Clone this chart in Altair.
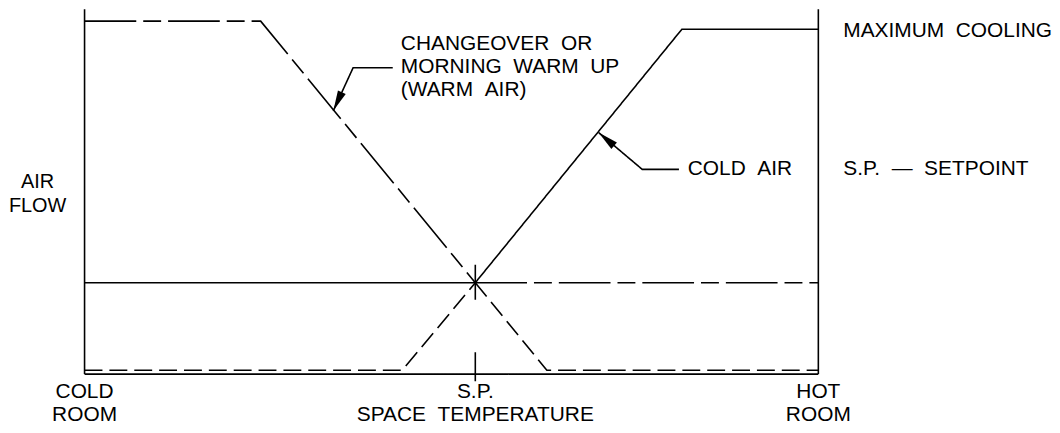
import math
import altair as alt
import pandas as pd

# ---------------- data (abstract units) ----------------
# x: 0 = cold room, 100 = hot room ; y: 0 = no air flow, 100 = max warm air
SP_X = 53.25          # setpoint position
MIN_Y = 25.9          # air flow at setpoint
LOW_Y = 1.1           # residual flow near bottom

warm_top_x = [0, 24.0, SP_X]
warm_top_y = [100, 100, MIN_Y]
warm_low_x = [SP_X, 63.0, 100]
warm_low_y = [MIN_Y, LOW_Y, LOW_Y]
cold_low_x = [0, 43.3, SP_X]
cold_low_y = [LOW_Y, LOW_Y, MIN_Y]
cold_up_x = [SP_X, 81.4, 100]
cold_up_y = [MIN_Y, 97.7, 97.7]
min_left_x = [0, SP_X]
min_left_y = [MIN_Y, MIN_Y]
min_right_x = [SP_X, 100]
min_right_y = [MIN_Y, MIN_Y]

frame_left_x = [0, 0]
frame_left_y = [103.4, 0]
frame_bottom_x = [0, 100]
frame_bottom_y = [0, 0]
frame_right_x = [100, 100]
frame_right_y = [0, 103.4]
tick_mid_x = [SP_X, SP_X]
tick_mid_y = [31.0, 21.1]
tick_bot_x = [SP_X, SP_X]
tick_bot_y = [6.2, -2.0]

lead_warm_x = [42.0, 36.6, 33.9]
lead_warm_y = [86.8, 86.8, 74.6]
lead_cold_x = [81.0, 76.0, 70.05]
lead_cold_y = [58.0, 58.0, 68.45]

NB = "\u00a0"
label_text = [
    f"CHANGEOVER{NB*2}OR",
    f"MORNING{NB*2}WARM{NB*2}UP",
    f"(WARM{NB*2}AIR)",
    f"COLD{NB*2}AIR",
    f"MAXIMUM{NB*2}COOLING",
    f"S.P.{NB*2}—{NB*2}SETPOINT",
    "AIR", "FLOW",
    "COLD", "ROOM",
    "S.P.", f"SPACE{NB*2}TEMPERATURE",
    "HOT", "ROOM",
]
label_x = [43.1, 43.1, 43.1, 82.2, 103.4, 103.4, -6.4, -6.4,
           0, 0, SP_X, SP_X, 100, 100]
label_y = [93.5, 87.0, 80.6, 58.0, 97.2, 58.0, 54.4, 47.6,
           -5.2, -11.6, -5.2, -11.6, -5.2, -11.6]
label_align = ["left"] * 6 + ["center"] * 8
label_size = [21, 21, 21, 21, 21, 21, 20, 20, 21, 21, 21, 21, 21, 21]

# ---------------- layout constants ----------------
W, H = 1050, 423
PX_X, PX_Y = 7.38, 3.55            # pixels per data unit
X0_PX, Y0_PX = 77, 367             # pixel position of data origin
x_dom = [-X0_PX / PX_X, (W - X0_PX) / PX_X]
y_dom = [-(H - Y0_PX) / PX_Y, Y0_PX / PX_Y]

segments = [
    ("warm_top", "longshort", warm_top_x, warm_top_y),
    ("warm_low", "short", warm_low_x, warm_low_y),
    ("cold_low", "short", cold_low_x, cold_low_y),
    ("cold_up", "solid", cold_up_x, cold_up_y),
    ("min_left", "solid", min_left_x, min_left_y),
    ("min_right", "longshort", min_right_x, min_right_y),
    ("frame_l", "solid", frame_left_x, frame_left_y),
    ("frame_b", "solid", frame_bottom_x, frame_bottom_y),
    ("frame_r", "solid", frame_right_x, frame_right_y),
    ("tick_m", "solid", tick_mid_x, tick_mid_y),
    ("tick_b", "solid", tick_bot_x, tick_bot_y),
    ("lead_w", "solid", lead_warm_x, lead_warm_y),
    ("lead_c", "solid", lead_cold_x, lead_cold_y),
]
rows = []
for name, style, xs, ys in segments:
    for i, (xv, yv) in enumerate(zip(xs, ys)):
        rows.append({"seg": name, "style": style, "ord": i, "x": xv, "y": yv})
lines_df = pd.DataFrame(rows)


def head_angle(xs, ys):
    dx = (xs[-1] - xs[-2]) * PX_X
    dy = -(ys[-1] - ys[-2]) * PX_Y
    return math.degrees(math.atan2(dx, -dy)) % 360


arrows_df = pd.DataFrame({
    "x": [lead_warm_x[-1], lead_cold_x[-1]],
    "y": [lead_warm_y[-1], lead_cold_y[-1]],
    "ang": [head_angle(lead_warm_x, lead_warm_y), head_angle(lead_cold_x, lead_cold_y)],
})

labels_df = pd.DataFrame({"x": label_x, "y": label_y, "t": label_text,
                          "al": label_align, "fs": label_size})

xs = alt.Scale(domain=x_dom, nice=False, zero=False)
ys = alt.Scale(domain=y_dom, nice=False, zero=False)
X = alt.X("x:Q", scale=xs, axis=None)
Y = alt.Y("y:Q", scale=ys, axis=None)

lines = alt.Chart(lines_df).mark_line(color="black", strokeWidth=1.6).encode(
    x=X, y=Y,
    detail="seg:N",
    order="ord:Q",
    strokeDash=alt.StrokeDash(
        "style:N",
        scale=alt.Scale(domain=["solid", "longshort", "short"],
                        range=[[1, 0], [52, 7, 18, 7], [18, 7]]),
        legend=None,
    ),
)

heads = alt.Chart(arrows_df).mark_point(
    shape="M0,0L-0.42,2L0.42,2Z", filled=True, color="black", opacity=1, size=420
).encode(x=X, y=Y, angle=alt.Angle("ang:Q", scale=None))

font = "Liberation Sans"
text_left = alt.Chart(labels_df[labels_df.al == "left"]).mark_text(
    align="left", baseline="middle", font=font, color="black"
).encode(x=X, y=Y, text="t:N", size=alt.Size("fs:Q", scale=None))
text_center = alt.Chart(labels_df[labels_df.al == "center"]).mark_text(
    align="center", baseline="middle", font=font, color="black"
).encode(x=X, y=Y, text="t:N", size=alt.Size("fs:Q", scale=None))

chart = alt.layer(lines, heads, text_left, text_center).properties(
    width=W, height=H, padding=0, autosize=alt.AutoSizeParams(type="none"),
    background="white",
).configure_view(stroke=None)

chart.save("out.html", embed_options={"renderer": "svg", "actions": False})
